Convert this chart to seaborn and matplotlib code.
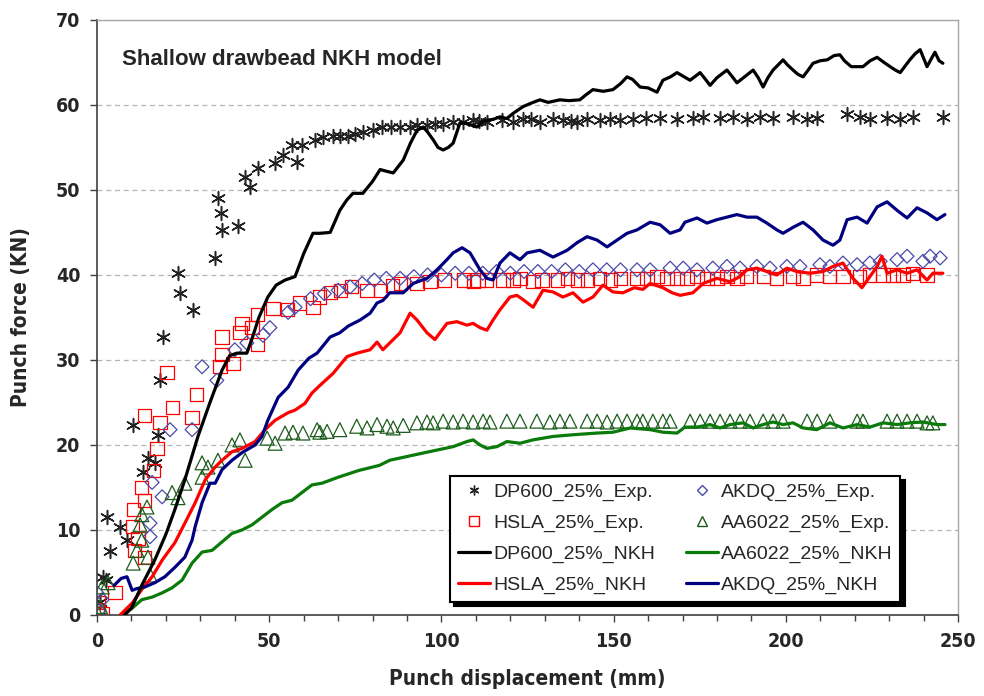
import numpy as np
import pandas as pd
import seaborn as sns
from matplotlib import pyplot as plt
from matplotlib.lines import Line2D

dp600_exp_x = [1.0, 1.7, 2.6, 3.8, 2.9, 6.7, 8.7, 10.5, 13.4, 14.8, 16.8, 17.7, 18.3, 19.2, 23.5, 24.1, 27.9,
               34.3, 35.1, 36.0, 36.3, 40.9, 43.0, 44.4, 46.7, 51.7, 54.0, 56.6, 58.1, 59.5, 63.3, 68.5, 72.9,
               77.2, 82.8, 88.0, 90.9, 95.8, 100.5, 103.4, 106.3, 109.2, 113.2, 117.6, 120.8, 123.7, 128.6,
               132.4, 135.3, 139.4, 142.3, 146.0, 149.0, 151.8, 155.6, 159.5, 163.5, 168.4, 173.0, 176.0,
               180.9, 184.7, 188.7, 192.5, 196.3, 202.1, 206.2, 209.0, 217.8, 221.5, 224.4, 229.4, 233.2,
               236.9, 245.6, 65.5, 70.5, 75.0, 80.0, 85.5, 93.0, 98.0, 111.0, 126.0, 137.5]
dp600_exp_y = [1.5, 4.5, 4.1, 7.5, 11.5, 10.4, 8.8, 22.4, 16.8, 18.5, 17.9, 21.2, 27.6, 32.7, 40.2, 37.9, 35.9,
               42.0, 49.0, 47.3, 45.3, 45.8, 51.5, 50.4, 52.6, 53.2, 54.1, 55.3, 53.3, 55.3, 55.9, 56.4, 56.4,
               56.8, 57.4, 57.4, 57.4, 57.6, 57.8, 58.0, 58.0, 58.2, 58.0, 58.2, 58.0, 58.3, 58.0,
               58.3, 58.2, 58.0, 58.3, 58.2, 58.4, 58.2, 58.3, 58.5, 58.5, 58.4, 58.5, 58.6,
               58.5, 58.6, 58.4, 58.6, 58.5, 58.6, 58.4, 58.5, 58.9, 58.6, 58.4, 58.5, 58.4,
               58.6, 58.6, 56.2, 56.4, 56.6, 57.0, 57.4, 57.6, 57.7, 58.1, 58.3, 58.1]

hsla_exp_x = [0.0, 0.5, 1.5, 5.2, 10.2, 10.5, 11.0, 11.9, 13.0, 13.9, 13.9, 13.9, 16.3, 17.4, 18.3, 20.3, 21.8,
              27.6, 29.0, 35.7, 36.3, 36.3, 39.5, 41.5, 42.1, 45.0, 46.5, 46.7, 51.1, 55.2, 58.9, 62.7,
              64.7, 67.7, 70.6, 74.0, 78.4, 82.2, 85.7, 88.0, 92.9, 96.7, 101.0, 106.3, 109.2, 110.6, 113.2,
              117.9, 120.8, 122.8, 126.6, 129.2, 133.6, 136.5, 139.4, 142.3, 146.0, 149.0, 151.9, 156.8,
              159.7, 162.6, 165.5, 168.4, 171.3, 174.2, 177.1, 180.0, 182.9, 185.8, 188.7, 193.4, 197.4,
              202.1, 205.0, 209.0, 212.8, 216.6, 221.5, 224.4, 228.2, 231.1, 234.0, 236.9, 241.0]
hsla_exp_y = [0.6, 1.5, 0.2, 2.6, 10.4, 12.4, 7.6, 9.0, 15.0, 23.5, 13.5, 6.8, 17.0, 19.6, 22.6, 28.5, 24.4,
              23.2, 25.9, 29.2, 32.7, 30.6, 29.6, 33.2, 34.3, 33.8, 35.3, 31.8, 36.1, 35.9, 36.7, 36.2,
              37.4, 37.9, 38.2, 38.6, 38.2, 38.2, 38.8, 39.0, 39.0, 39.2, 39.4, 39.4, 39.2, 39.4, 39.4,
              39.4, 39.4, 39.6, 39.2, 39.4, 39.4, 39.6, 39.4, 39.4, 39.6, 39.4, 39.6, 39.6,
              39.6, 39.8, 39.6, 39.6, 39.6, 39.8, 39.6, 39.6, 39.8, 39.6, 39.8, 39.8, 39.6,
              39.8, 39.6, 40.0, 39.8, 39.8, 39.8, 40.0, 40.0, 40.0, 40.0, 40.2, 40.0]

akdq_exp_x = [0.0, 1.5, 0.5, 15.4, 15.4, 16.0, 18.9, 21.2, 27.6, 30.5, 34.8, 40.0, 43.5, 48.2, 50.2, 55.5, 57.5,
              62, 66, 70, 73.5, 77, 80.5, 84, 88, 92, 96, 100, 104, 108, 112, 116, 120, 124, 128, 132, 136,
              140, 144, 148, 152, 156.8, 160.6, 166.4, 170.2, 174.2, 178.8, 182.9, 186.7, 191.6, 195.4, 200.3,
              204.1, 209.9, 212.8, 216.6, 220.7, 224.4, 227.4, 232.3, 235.2, 239.8, 241.9, 244.8]
akdq_exp_y = [2.6, 1.8, 0.5, 10.8, 9.2, 15.6, 13.9, 21.8, 21.8, 29.2, 27.6, 31.2, 32.0, 32.9, 33.8, 35.6, 36.2,
              37.2, 37.8, 38.2, 38.6, 39.0, 39.4, 39.6, 39.6, 39.8, 40.0, 40.0, 40.2, 40.2, 40.2, 40.4, 40.2,
              40.4, 40.4, 40.4, 40.6, 40.4, 40.6, 40.6, 40.6, 40.6, 40.6, 40.8, 40.8, 40.6, 40.8, 41.0, 40.8,
              41.0, 40.8, 41.0, 41.0, 41.2, 41.0, 41.4, 41.2, 41.4, 41.6, 41.8, 42.2, 41.6, 42.2, 42.0]

aa6022_exp_x = [0.0, 1.5, 3.2, 1.0, 10.5, 11.6, 13.0, 12.5, 14.5, 13.0, 14.8, 15.4, 21.8, 23.5, 25.5, 30.5, 30.5,
                32.2, 35.1, 39.2, 41.5, 43.0, 49.4, 51.7, 54.6, 56.9, 59.8, 63.9,
                64.7, 66.8, 70.5, 75.4, 78.4, 81.3, 84.2, 86.0, 88.9, 92.9, 95.8, 97.6, 100.5, 103.4, 106.3,
                109.2, 112.1, 114.1, 119.0, 122.8, 127.7, 131.5, 134.4, 137.3, 142.3, 145.2, 148.1, 151.0,
                153.9, 156.8, 158.5, 161.4, 164.3, 166.4, 172.2, 175.1, 178.0, 180.9, 183.8, 186.7, 189.6,
                193.4, 196.3, 199.2, 206.2, 209.1, 212.8, 220.7, 222.4, 229.4, 232.3, 235.2, 238.1, 241.0, 242.7]
aa6022_exp_y = [0.4, 3.3, 3.8, 1.0, 6.1, 7.6, 8.8, 10.6, 12.7, 11.8, 6.8, 4.7, 14.4, 13.8, 15.5, 17.9, 16.2,
                17.4, 18.2, 20.0, 20.6, 18.2, 20.8, 20.2, 21.4, 21.5, 21.4, 21.8,
                21.5, 21.6, 21.8, 22.2, 22.0, 22.4, 22.2, 22.0, 22.3, 22.6, 22.7, 22.6, 22.8, 22.7, 22.8,
                22.7, 22.8, 22.7, 22.8, 22.8, 22.8, 22.7, 22.8, 22.8, 22.8, 22.8, 22.7, 22.8,
                22.8, 22.8, 22.8, 22.8, 22.8, 22.8, 22.8, 22.8, 22.8, 22.8, 22.8, 22.8, 22.8,
                22.8, 22.8, 22.8, 22.8, 22.8, 22.8, 22.8, 22.8, 22.8, 22.8, 22.8, 22.8, 22.6, 22.6]

# ---- NKH model curves ----
dp600_nkh_x = [8, 10, 13, 16.8, 20, 22.6, 25.5, 29.3, 32.8, 36.3, 38.5, 40.6, 43.5, 45, 47, 49.6, 52, 54.6, 57.5,
               60, 62.7, 64.7, 67.7, 70.5, 72.5, 74.3, 77.2, 80, 82.2, 84, 86, 88.9, 91, 92.9, 94.7, 96, 97.6,
               99, 100.5, 102, 103.4, 105.4, 107.5, 110.3, 112, 113.2, 115, 117, 119, 120.8, 123.7, 126, 128.6,
               131, 134.4, 137, 140.2, 142, 144, 147, 149.8, 152, 153.9, 155.5, 157.7, 160, 162.6, 164.3, 166.5,
               168.4, 170.5, 172.2, 173.5, 175.1, 176.5, 178, 180, 182.9, 184.5, 185.8, 188, 190.5, 192, 193.4,
               194.8, 196.3, 199.2, 200.5, 202.1, 203.5, 205, 206.5, 207.9, 210, 212, 214, 215.7, 217, 219,
               220.5, 222.4, 224.5, 226.5, 228.5, 230.3, 231.8, 233.2, 234.5, 236, 237.5, 239, 240, 241, 242.2,
               243.3, 244.5, 245.6]
dp600_nkh_y = [0, 0.8, 3.5, 6.5, 9.5, 12.4, 15.9, 21, 25, 28.8, 30.5, 30.8, 30.8, 32.5, 35, 37.4, 38.8, 39.4, 39.8,
               42.5, 44.9, 44.9, 45, 47.6, 48.8, 49.6, 49.6, 51, 52.4, 52.2, 52, 53.5, 55.5, 57, 57.4, 56.8, 55.9,
               55, 54.7, 55, 55.5, 57.9, 57.8, 57.4, 58, 58.2, 58.3, 58.6, 58.4, 59, 59.8, 60.2, 60.6,
               60.3, 60.6, 60.5, 60.6, 61.2, 61.8, 61.6, 61.8, 62.5, 63.3, 63, 62.1, 62, 61.5, 62.9, 63.3,
               63.8, 63.3, 62.9, 63.3, 63.8, 63.1, 62.3, 63.2, 64.1, 63.3, 62.6, 63.3, 64.1, 63.2, 62.1,
               63.2, 64.1, 65.3, 64.7, 64.1, 63.6, 63.3, 64.1, 64.9, 65.2, 65.3, 65.8, 65.9, 65.2, 64.5,
               64.5, 64.5, 65.2, 65.6, 65, 64.5, 64.1, 63.8, 64.5, 65.3, 66, 66.5, 65.5, 64.5, 65.4,
               66.2, 65.2, 64.9]

hsla_nkh_x = [6.7, 10.2, 13, 16, 19, 22.6, 25.5, 28.5, 31.4, 34.3, 36.3, 39.2, 42.1, 45.9, 48.8, 51.7, 55.5, 57.5,
              60.4, 62.4, 64.7, 68.5, 72.6, 75.5, 79.3, 81.3, 83, 86, 88, 90.9, 92.9, 95.8, 98.1, 101.6, 104.5,
              107.4, 109.2, 111.2, 113.2, 115, 117, 119.9, 121.9, 123.7, 126.6, 129.5, 132.4, 135.3, 138.2,
              141.1, 144, 146.9, 149.8, 152.7, 156, 158.5, 160.6, 164.3, 167, 169.3, 173, 176, 180, 183.8,
              186.7, 188.7, 191.6, 194.5, 197.4, 200.3, 203.2, 207, 210.8, 213.7, 216.6, 219.5, 222.1, 224.4,
              226.5, 227.9, 229.4, 232.3, 235.2, 238.1, 241, 242.7, 245.6]
hsla_nkh_y = [0, 1.4, 3, 4.5, 6.5, 8.5, 10.8, 13.2, 15.9, 17.4, 18.2, 19.2, 19.6, 20.4, 21.8, 22.9, 23.8, 24.1,
              24.9, 26.1, 27, 28.4, 30.4, 30.8, 31.2, 32.1, 31.2, 32.4, 33.2, 35.5, 34.7, 33.2, 32.4, 34.3, 34.5,
              34.1, 34.3, 33.8, 33.5, 34.7, 35.9, 37.4, 37.6, 37.1, 36.2, 38.2, 38, 37.4, 37.9,
              36.8, 37.4, 38.8, 38, 37.9, 38.5, 38.3, 39, 38.5, 37.9, 37.6, 37.9, 39, 39.6, 39.2,
              39.8, 40.6, 40.8, 40.4, 40, 40.8, 40.4, 40.2, 40.4, 41, 41.4, 39.6, 38.5, 39.8,
              41, 42.2, 40.2, 40.6, 40.2, 40.6, 39.4, 40.2, 40.2]

akdq_nkh_x = [5, 7, 8.7, 10.2, 11.5, 13.9, 16.8, 19.7, 22.6, 25.5, 27.6, 28.5, 30.5, 32.8, 34.3, 36.3, 39.2, 42.1,
              45.9, 47.9, 49.6, 52.6, 55.5, 58.4, 61.5, 63.9, 67.7, 70.5, 73, 76.4, 79.3, 81.3, 83, 85, 88.9,
              91.8, 95.8, 98.7, 101.6, 103.4, 106, 108.3, 111.2, 113.2, 115, 117, 119.9, 122.8, 124.9, 128.6,
              132.4, 136.5, 139.4, 142.3, 145.2, 148.1, 151, 153.9, 156.8, 160.6, 163.5, 166.4, 169.3, 170.7,
              174.2, 177.1, 180, 182.9, 185.8, 188.7, 191.6, 194.5, 197.4, 199.2, 202.1, 205, 207.9, 210.8,
              213.7, 215.7, 217.8, 220.7, 223.6, 226.5, 229.4, 232.3, 235.2, 238.1, 241, 243.9, 246.2]
akdq_nkh_y = [3.5, 4.3, 4.5, 2.9, 3.1, 3.3, 3.8, 4.5, 5.6, 6.8, 8.8, 10.4, 13.2, 15.5, 15.5, 17.1, 18.2, 19.1,
              20, 21, 22.9, 25.6, 26.8, 28.8, 30.2, 30.8, 32.7, 33.2, 34, 34.7, 35.5, 36.7, 37, 37.9, 37.9,
              39, 39.6, 40.6, 41.8, 42.6, 43.2, 42.6, 40.6, 39.6, 39.4, 41.4, 42.6, 41.8, 42.6, 42.9,
              42.1, 42.9, 43.8, 44.5, 44.1, 43.3, 44.1, 44.9, 45.3, 46.2, 45.9, 44.9, 45.3, 46.2,
              46.7, 46.1, 46.5, 46.8, 47.1, 46.8, 46.8, 46.1, 45.3, 44.9, 45.6, 46.2, 45.3, 44.1,
              43.5, 44.1, 46.5, 46.8, 46.1, 48, 48.6, 47.6, 46.7, 47.9, 47.3, 46.5, 47.1]

aa6022_nkh_x = [7.3, 10.2, 13, 16, 18.9, 21.8, 24.7, 27.6, 30.5, 33.4, 36.3, 39.2, 42.1, 45, 47.9, 50.8, 53.7,
                56.6, 59.5, 62.4, 65.3, 70, 76, 82, 85, 91.8, 98.7, 103.4, 107.4, 109.2, 111.2, 113.2, 116.1,
                119, 122.8, 126.6, 132.4, 138.2, 145.2, 149.8, 154.8, 160.6, 164.3, 168.4, 170.7, 174.2, 178,
                180.9, 183.8, 187.6, 190.5, 193.4, 196.3, 199.2, 202.1, 205, 209, 212.8, 216.6, 220.7, 224.4,
                228.2, 232.3, 236, 239.8, 243.9, 246.2]
aa6022_nkh_y = [0, 0.8, 1.8, 2.1, 2.6, 3.2, 4.1, 6.1, 7.4, 7.6, 8.6, 9.6, 10, 10.6, 11.5, 12.4, 13.2,
                13.5, 14.4, 15.3, 15.5, 16.2, 17, 17.6, 18.2, 18.8, 19.4, 19.8, 20.4, 20.6, 20, 19.6, 19.8,
                20.4, 20.2, 20.6, 21, 21.2, 21.4, 21.5, 22, 21.8, 21.5, 21.4, 22.1, 22.1, 22.4,
                22, 22.4, 22.6, 22, 22.4, 22.7, 22.4, 22.6, 22, 21.8, 22.6, 22, 22.4, 22.1,
                22.6, 22.4, 22.6, 22.7, 22.4, 22.4]

legend_labels = ['DP600_25%_Exp.', 'HSLA_25%_Exp.', 'DP600_25%_NKH', 'HSLA_25%_NKH',
                 'AKDQ_25%_Exp.', 'AA6022_25%_Exp.', 'AA6022_25%_NKH', 'AKDQ_25%_NKH']

ASTER = (6, 2, 0)
C_RED = '#ff0000'
C_NAVY = '#000080'
C_GREEN = '#0a7a0a'
C_DIAM = '#4a4aa8'
C_TRI = '#1c5c1c'


def plot_chart():
    sns.set_theme(style='white')
    plt.rcParams['font.family'] = ['Liberation Sans', 'DejaVu Sans']
    # condensed bold face for the axis numbers and titles
    narrow = dict(family='DejaVu Sans', stretch='condensed', weight='bold')

    fig = plt.figure(figsize=(9.84, 6.96), dpi=100)
    ax = fig.add_axes([0.0986, 0.1164, 0.875, 0.855])

    # experimental markers first, model lines on top
    sns.scatterplot(x=dp600_exp_x, y=dp600_exp_y, ax=ax, marker=ASTER, s=100, color='#222222', linewidth=1.1, zorder=2)
    sns.scatterplot(x=hsla_exp_x, y=hsla_exp_y, ax=ax, marker='s', s=90, facecolor='none', edgecolor=C_RED,
                    linewidth=0.9, zorder=2)
    sns.scatterplot(x=akdq_exp_x, y=akdq_exp_y, ax=ax, marker='D', s=50, facecolor='none', edgecolor=C_DIAM,
                    linewidth=0.9, zorder=2)
    sns.scatterplot(x=aa6022_exp_x, y=aa6022_exp_y, ax=ax, marker='^', s=100, facecolor='none', edgecolor=C_TRI,
                    linewidth=0.9, zorder=2)

    lw = 2.3
    sns.lineplot(x=aa6022_nkh_x, y=aa6022_nkh_y, ax=ax, color=C_GREEN, linewidth=lw, sort=False, estimator=None, zorder=3)
    sns.lineplot(x=hsla_nkh_x, y=hsla_nkh_y, ax=ax, color=C_RED, linewidth=lw, sort=False, estimator=None, zorder=3)
    sns.lineplot(x=akdq_nkh_x, y=akdq_nkh_y, ax=ax, color=C_NAVY, linewidth=lw, sort=False, estimator=None, zorder=3)
    sns.lineplot(x=dp600_nkh_x, y=dp600_nkh_y, ax=ax, color='black', linewidth=lw, sort=False, estimator=None, zorder=3)

    ax.set_xlim(0, 250)
    ax.set_ylim(0, 70)
    ax.set_xticks(np.arange(0, 251, 50))
    ax.set_xticks(np.arange(0, 251, 10), minor=True)
    ax.set_yticks(np.arange(0, 71, 10))
    ax.grid(False)
    ax.yaxis.grid(True, color='#b5b5b5', linestyle=(0, (4, 3)), linewidth=0.9)
    ax.set_axisbelow(True)

    for side in ['top', 'right']:
        ax.spines[side].set_color('#a8a8a8')
        ax.spines[side].set_linewidth(1.0)
    for side in ['left', 'bottom']:
        ax.spines[side].set_color('#404040')
        ax.spines[side].set_linewidth(1.2)

    ax.tick_params(which='both', direction='out', bottom=True, left=True, color='#404040', width=1.0)
    ax.tick_params(which='major', length=5, pad=7, labelsize=14)
    ax.tick_params(which='minor', length=4)
    for lab in ax.get_xticklabels() + ax.get_yticklabels():
        lab.set_fontweight('bold')
        lab.set_family('DejaVu Sans')
        lab.set_fontstretch('condensed')

    ax.set_xlabel('Punch displacement (mm)', fontsize=15, **narrow)
    ax.set_ylabel('Punch force (KN)', fontsize=15, **narrow)
    ax.xaxis.set_label_coords(0.5, -0.09)
    ax.yaxis.set_label_coords(-0.077, 0.5)

    ax.text(0.029, 0.933, 'Shallow drawbead NKH model', transform=ax.transAxes, fontsize=16,
            fontweight='bold', va='center', ha='left')

    ms = 7
    handles = [
        Line2D([], [], marker=ASTER, color='#222222', linestyle='none', markersize=ms, markeredgewidth=1.0),
        Line2D([], [], marker='s', markerfacecolor='none', markeredgecolor=C_RED, linestyle='none', markersize=ms),
        Line2D([], [], color='black', linewidth=lw),
        Line2D([], [], color=C_RED, linewidth=lw),
        Line2D([], [], marker='D', markerfacecolor='none', markeredgecolor=C_DIAM, linestyle='none', markersize=5.5),
        Line2D([], [], marker='^', markerfacecolor='none', markeredgecolor=C_TRI, linestyle='none', markersize=ms),
        Line2D([], [], color=C_GREEN, linewidth=lw),
        Line2D([], [], color=C_NAVY, linewidth=lw),
    ]
    leg = ax.legend(handles, legend_labels, ncol=2, loc='lower right', bbox_to_anchor=(0.915, 0.135),
                    bbox_transform=fig.transFigure, fontsize=14, frameon=True, fancybox=False,
                    shadow={'ox': 3, 'oy': -3, 'color': 'black', 'alpha': 1},
                    handlelength=1.65, handletextpad=0.15, columnspacing=1.6, borderpad=0.4,
                    labelspacing=0.68, borderaxespad=0)
    leg.get_frame().set_edgecolor('black')
    leg.get_frame().set_linewidth(1.5)
    leg.get_frame().set_facecolor('white')
    leg.get_frame().set_alpha(1)

    plt.savefig('out.png', dpi=100)


if __name__ == '__main__':
    plot_chart()
